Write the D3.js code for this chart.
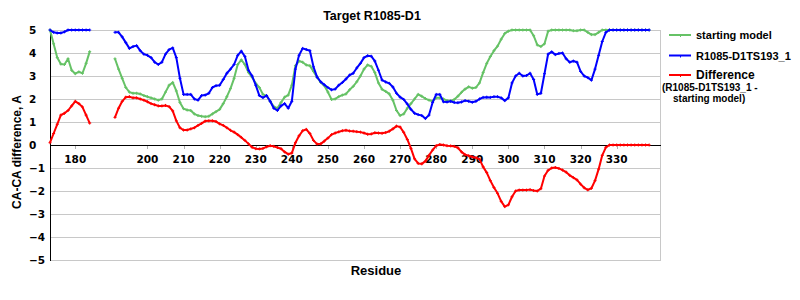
<!DOCTYPE html>
<html>
<head>
  <meta charset="utf-8">
  <style>
    body {
      margin: 0;
      background: #fff;
    }
    text {
      font-family: "Liberation Sans", Arial, sans-serif;
      font-weight: bold;
      fill: #000;
    }
    .tick-label {
      font-family: "DejaVu Sans", Verdana, sans-serif;
      font-size: 10.5px;
    }
  </style>
</head>
<body>
  <div id="chart"></div>
  <script src="https://d3js.org/d3.v7.min.js"></script>
  <script>

    // residues 173..339 ; 185-190 are missing in the model (null)
    var firstResidue = 173;

    var startingModel = [
      5.0, 4.4, 3.8, 3.52, 3.5, 3.75, 3.25, 3.1, 3.18, 3.12,          // 173
      3.55, 4.06, null, null, null, null, null, null, 3.75, 3.3,      // 183
      2.9, 2.5, 2.3, 2.25, 2.25, 2.22, 2.15, 2.1, 2.05, 2.0,          // 193
      1.95, 2.0, 2.3, 2.6, 2.72, 2.35, 1.85, 1.58, 1.52, 1.5,         // 203
      1.35, 1.28, 1.25, 1.23, 1.25, 1.35, 1.45, 1.55, 1.8, 2.1,       // 213
      2.45, 2.9, 3.5, 3.7, 3.5, 3.15, 2.95, 2.68, 2.5, 2.2,           // 223
      2.14, 1.9, 1.67, 1.6, 1.85, 2.08, 2.17, 2.6, 3.45, 3.65,        // 233
      3.6, 3.48, 3.45, 3.2, 2.95, 2.72, 2.58, 2.3, 1.98, 2.0,         // 243
      2.1, 2.17, 2.22, 2.4, 2.55, 2.75, 3.0, 3.3, 3.48, 3.42,         // 253
      3.15, 2.7, 2.42, 2.33, 2.22, 1.95, 1.5, 1.28, 1.35, 1.6,        // 263
      1.8, 2.0, 2.2, 2.12, 2.02, 1.95, 1.9, 2.05, 2.05, 2.0,          // 273
      1.93, 1.91, 1.98, 2.12, 2.29, 2.43, 2.53, 2.47, 2.5, 2.7,       // 283
      3.15, 3.55, 3.85, 4.1, 4.3, 4.6, 4.85, 4.95, 5, 5,              // 293
      5, 5, 5, 5, 4.75, 4.35, 4.28, 4.4, 4.95, 5,                     // 303
      5, 5, 5, 5, 5, 4.97, 4.97, 5, 5, 4.9,                           // 313
      4.8, 4.8, 4.9, 5, 5, 5, 5, 5, 5, 5,                             // 323
      5, 5, 5, 5, 5, 5, 5                                             // 333
    ];

    var model193 = [
      5.0, 4.9, 4.87, 4.87, 4.92, 5, 5, 5, 5, 5,                      // 173
      5, 5, null, null, null, null, null, null, 4.9, 4.9,             // 183
      4.7, 4.45, 4.2, 4.28, 4.32, 4.1, 3.95, 3.9, 3.8, 3.6,           // 193
      3.5, 3.6, 3.95, 4.15, 4.22, 3.8, 2.9, 2.2, 2.2, 2.2,            // 203
      2.0, 1.95, 2.15, 2.17, 2.25, 2.5, 2.58, 2.6, 2.85, 3.12,        // 213
      3.3, 3.5, 3.9, 4.08, 3.85, 3.25, 3.0, 2.6, 2.15, 2.06,          // 223
      2.15, 1.9, 1.6, 1.5, 1.7, 1.8, 1.6, 1.9, 3.3, 3.9,              // 233
      4.2, 4.15, 4.1, 3.4, 2.95, 2.75, 2.62, 2.5, 2.4, 2.43,          // 243
      2.6, 2.72, 2.87, 3.04, 3.12, 3.35, 3.55, 3.8, 3.88, 3.86,       // 253
      3.65, 3.25, 2.82, 2.74, 2.68, 2.52, 2.25, 2.08, 1.98, 1.78,     // 263
      1.55, 1.38, 1.32, 1.28, 1.15, 1.3, 1.85, 2.2, 2.2, 1.88,        // 273
      1.87, 1.9, 1.85, 1.84, 1.87, 1.93, 1.9, 1.86, 1.9, 2.0,         // 283
      2.07, 2.08, 2.07, 2.1, 2.1, 2.05, 1.93, 2.05, 2.7, 3.0,         // 293
      3.12, 3.0, 3.02, 3.12, 2.85, 2.2, 2.25, 3.1, 3.95, 4.05,        // 303
      3.93, 3.98, 4.0, 3.75, 3.6, 3.65, 3.6, 3.2, 3.0, 2.93,          // 313
      2.82, 3.3, 3.9, 4.5, 4.9, 5, 5, 5, 5, 5,                        // 323
      5, 5, 5, 5, 5, 5, 5                                             // 333
    ];

    var difference = [
      0.1, 0.5, 0.9, 1.3, 1.38, 1.5, 1.7, 1.9, 1.8, 1.65,             // 173
      1.3, 0.95, null, null, null, null, null, null, 1.2, 1.6,        // 183
      1.9, 2.08, 2.1, 2.05, 2.05, 2.0, 1.95, 1.88, 1.8, 1.75,         // 193
      1.7, 1.7, 1.72, 1.67, 1.48, 1.05, 0.75, 0.65, 0.65, 0.7,        // 203
      0.75, 0.85, 0.94, 1.04, 1.05, 1.05, 1.02, 0.92, 0.85, 0.75,     // 213
      0.64, 0.56, 0.45, 0.33, 0.2, 0.05, -0.1, -0.16, -0.17, -0.15,   // 223
      -0.08, -0.03, -0.06, -0.11, -0.16, -0.3, -0.4, -0.35, 0.1, 0.4, // 233
      0.62, 0.68, 0.5, 0.2, 0.04, 0.05, 0.17, 0.3, 0.45, 0.52,        // 243
      0.57, 0.62, 0.64, 0.61, 0.6, 0.58, 0.56, 0.52, 0.47, 0.48,      // 253
      0.53, 0.52, 0.51, 0.54, 0.6, 0.7, 0.82, 0.78, 0.55, 0.24,       // 263
      -0.15, -0.6, -0.8, -0.82, -0.7, -0.45, -0.22, -0.03, 0.02, 0.0, // 273
      -0.03, -0.04, -0.06, -0.12, -0.3, -0.42, -0.47, -0.52, -0.55, -0.62, // 283
      -0.95, -1.2, -1.55, -1.85, -2.1, -2.45, -2.68, -2.6, -2.25, -2.0,    // 293
      -1.96, -1.96, -1.96, -1.94, -1.98, -2.0, -1.9, -1.35, -1.1, -1.0,    // 303
      -0.98, -1.02, -1.09, -1.18, -1.32, -1.42, -1.52, -1.7, -1.86, -1.95, // 313
      -1.88, -1.55, -1.05, -0.45, -0.1, 0, 0, 0, 0, 0,                // 323
      0, 0, 0, 0, 0, 0, 0                                             // 333
    ];

    // 190 has no label: residue absent
    var xTickLabels = [180, 200, 210, 220, 230, 240, 250, 260, 270, 280, 290, 300, 310, 320, 330];
    var yTickLabels = [5, 4, 3, 2, 1, 0, -1, -2, -3, -4, -5];

    var seriesNames = ['starting model', 'R1085-D1TS193_1', 'Difference'];
    var seriesColors = ['#66c266', '#0000ff', '#ff0000'];

    var width = 800;
    var height = 300;
    var plot = { left: 50, right: 660, top: 30, bottom: 260 };

    var svg = d3.select('#chart')
      .append('svg')
        .attr('width', width)
        .attr('height', height);

    var x = d3.scaleLinear()
      .domain([firstResidue, 342])
      .range([plot.left, plot.right]);

    var y = d3.scaleLinear()
      .domain([-5, 5])
      .range([plot.bottom, plot.top]);

    // grid
    svg.append('g')
      .selectAll('line')
      .data(yTickLabels.filter(v => v !== 0))
      .enter()
        .append('line')
          .attr('x1', plot.left)
          .attr('x2', plot.right)
          .attr('y1', d => y(d) + 0.5)
          .attr('y2', d => y(d) + 0.5)
          .style('stroke', '#c8c8c8');

    svg.append('line')
      .attr('x1', plot.right + 0.5)
      .attr('x2', plot.right + 0.5)
      .attr('y1', plot.top)
      .attr('y2', plot.bottom + 1)
      .style('stroke', '#c8c8c8');

    // x ticks on the zero line
    svg.append('g')
      .selectAll('line')
      .data(xTickLabels)
      .enter()
        .append('line')
          .attr('x1', d => Math.round(x(d)) + 0.5)
          .attr('x2', d => Math.round(x(d)) + 0.5)
          .attr('y1', y(0))
          .attr('y2', y(0) + 4)
          .style('stroke', '#b0b0b0');

    svg.append('line')
      .attr('x1', plot.left)
      .attr('x2', plot.right + 1)
      .attr('y1', y(0) + 0.5)
      .attr('y2', y(0) + 0.5)
      .style('stroke', '#000');

    svg.append('line')
      .attr('x1', plot.left + 0.5)
      .attr('x2', plot.left + 0.5)
      .attr('y1', plot.top)
      .attr('y2', plot.bottom + 1)
      .style('stroke', '#000');

    // tick labels
    svg.append('g')
      .selectAll('text')
      .data(xTickLabels)
      .enter()
        .append('text')
          .attr('class', 'tick-label')
          .attr('x', d => x(d))
          .attr('y', y(0) + 18)
          .attr('text-anchor', 'middle')
          .text(d => d);

    svg.append('g')
      .selectAll('text')
      .data(yTickLabels)
      .enter()
        .append('text')
          .attr('class', 'tick-label')
          .attr('x', 29)
          .attr('y', d => y(d) + 4)
          .text(d => d < 0 ? '\u2212' + Math.abs(d) : d);

    // series
    var series = [startingModel, model193, difference].map(function(values, i) {
      return {
        name: seriesNames[i],
        color: seriesColors[i],
        points: values.map((v, j) => ({ r: firstResidue + j, v: v }))
      };
    });

    var line = d3.line()
      .defined(d => d.v !== null)
      .x(d => x(d.r))
      .y(d => y(d.v));

    var seriesGroup = svg.append('g')
      .selectAll('g')
      .data(series)
      .enter()
        .append('g');

    seriesGroup.append('path')
      .attr('d', d => line(d.points))
      .style('fill', 'none')
      .style('stroke', d => d.color)
      .style('stroke-width', 2)
      .style('stroke-linejoin', 'round');

    // tiny point markers
    seriesGroup.each(function(s) {
      d3.select(this)
        .selectAll('path.mark')
        .data(s.points.filter(p => p.v !== null))
        .enter()
          .append('path')
            .attr('class', 'mark')
            .attr('d', p => {
              var px = x(p.r), py = y(p.v);
              return `M${px - 1.5},${py}H${px + 1.5}M${px},${py - 1.5}V${py + 1.5}`;
            })
            .style('stroke', s.color)
            .style('stroke-width', 1);
    });

    // titles
    svg.append('text')
      .attr('x', 372)
      .attr('y', 20)
      .attr('text-anchor', 'middle')
      .style('font-size', '12.5px')
      .text('Target R1085-D1');

    svg.append('text')
      .attr('transform', 'translate(21,152) rotate(-90)')
      .attr('text-anchor', 'middle')
      .style('font-size', '12px')
      .text('CA-CA difference, A');

    svg.append('text')
      .attr('x', 376)
      .attr('y', 275)
      .attr('text-anchor', 'middle')
      .style('font-size', '13px')
      .text('Residue');

    // legend
    var legendY = [35, 55.5, 75];
    var legend = svg.append('g');

    series.forEach(function(s, i) {
      var ly = legendY[i];
      legend.append('line')
        .attr('x1', 669)
        .attr('x2', 691)
        .attr('y1', ly)
        .attr('y2', ly)
        .style('stroke', s.color)
        .style('stroke-width', 2);
      legend.append('line')
        .attr('x1', 680.5)
        .attr('x2', 680.5)
        .attr('y1', ly)
        .attr('y2', ly + 2)
        .style('stroke', s.color);
      legend.append('text')
        .attr('x', 696)
        .attr('y', ly + 4)
        .style('font-size', i === 2 ? '12px' : '11px')
        .text(s.name);
    });

    legend.append('text')
      .attr('x', 662)
      .attr('y', 91)
      .style('font-size', '10px')
      .text('(R1085-D1TS193_1 -');

    legend.append('text')
      .attr('x', 673)
      .attr('y', 102)
      .style('font-size', '10px')
      .text('starting model)');

  </script>
</body>
</html>
